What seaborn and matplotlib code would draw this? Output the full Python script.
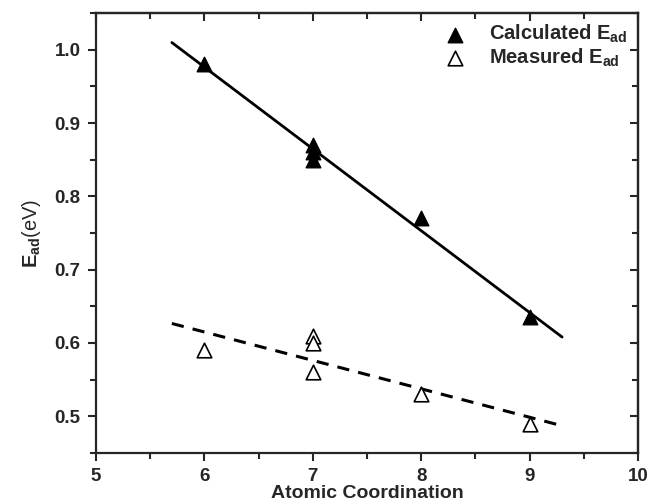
import numpy as np
import pandas as pd
import seaborn as sns
import matplotlib
matplotlib.use("Agg")
from matplotlib import pyplot as plt
from matplotlib.ticker import MultipleLocator

# values
calc_x = [6, 7, 7, 7, 8, 9]
calc_y = [0.98, 0.87, 0.86, 0.85, 0.77, 0.635]
meas_x = [6, 7, 7, 7, 8, 9]
meas_y = [0.59, 0.61, 0.60, 0.56, 0.53, 0.49]
fit_range = [5.7, 9.3]

sns.set_style("ticks")
plt.rcParams['font.family'] = ['Liberation Sans', 'DejaVu Sans']
plt.rcParams['font.weight'] = 'bold'
plt.rcParams['mathtext.fontset'] = 'custom'
plt.rcParams['mathtext.rm'] = 'Liberation Sans:bold'
plt.rcParams['mathtext.bf'] = 'Liberation Sans:bold'
plt.rcParams['mathtext.it'] = 'Liberation Sans:bold'

calc = pd.DataFrame({"x": calc_x, "y": calc_y})
meas = pd.DataFrame({"x": meas_x, "y": meas_y})

# linear fits drawn as lines
xs = np.linspace(fit_range[0], fit_range[1], 50)
pc = np.polyfit(calc_x, calc_y, 1)
pm = np.polyfit(meas_x, meas_y, 1)
fits = pd.DataFrame({"x": xs, "calc": np.polyval(pc, xs), "meas": np.polyval(pm, xs)})

fig = plt.figure(figsize=(6.5, 5.04), dpi=100)
ax = fig.add_axes([0.1477, 0.1012, 0.8338, 0.873])

sns.lineplot(data=fits, x="x", y="calc", ax=ax, color="black", lw=2)
sns.lineplot(data=fits, x="x", y="meas", ax=ax, color="black", lw=2.2,
             dashes=False, linestyle=(0, (4, 3)))
sns.scatterplot(data=calc, x="x", y="y", ax=ax, marker="^", s=110,
                color="black", edgecolor="black", linewidth=1, zorder=3,
                label=r"Calculated E$_{ad}$")
sns.scatterplot(data=meas, x="x", y="y", ax=ax, marker="^", s=110,
                facecolor="white", edgecolor="black", linewidth=1.2, zorder=3,
                label=r"Measured E$_{ad}$")

ax.set_xlim(5, 10)
ax.set_ylim(0.45, 1.05)
ax.xaxis.set_major_locator(MultipleLocator(1))
ax.xaxis.set_minor_locator(MultipleLocator(0.5))
ax.yaxis.set_major_locator(MultipleLocator(0.1))
ax.yaxis.set_minor_locator(MultipleLocator(0.05))
ax.yaxis.set_major_formatter(plt.FormatStrFormatter('%.1f'))

for s in ax.spines.values():
    s.set_visible(True)
    s.set_linewidth(1.6)
ax.tick_params(which='both', direction='out', width=1.5, top=False, right=False,
               labelsize=13.5, pad=5)
ax.tick_params(which='major', length=6)
ax.tick_params(which='minor', length=4)
# inward ticks on top and right
ax2 = ax.secondary_xaxis('top')
ax2.xaxis.set_major_locator(MultipleLocator(1))
ax2.xaxis.set_minor_locator(MultipleLocator(0.5))
ax2.tick_params(which='both', direction='in', width=1.5, labeltop=False)
ax2.tick_params(which='major', length=6)
ax2.tick_params(which='minor', length=4)
ax3 = ax.secondary_yaxis('right')
ax3.yaxis.set_major_locator(MultipleLocator(0.1))
ax3.yaxis.set_minor_locator(MultipleLocator(0.05))
ax3.tick_params(which='both', direction='in', width=1.5, labelright=False)
ax3.tick_params(which='major', length=6)
ax3.tick_params(which='minor', length=4)
for a in (ax2, ax3):
    for s in a.spines.values():
        s.set_linewidth(1.6)

for lab in ax.get_xticklabels() + ax.get_yticklabels():
    lab.set_fontweight('bold')

ax.set_xlabel("Atomic Coordination", fontsize=14, fontweight='bold', labelpad=0)
ax.set_ylabel(r"$E_{ad}$" + "(eV)", fontsize=14.5, labelpad=8)
ax.yaxis.label.set_fontweight('normal')

ax.legend(loc='upper right', frameon=False, fontsize=14.5, handletextpad=0.7,
          borderaxespad=0.1, labelspacing=0.05, markerscale=1.0,
          bbox_to_anchor=(1.0, 1.0))

fig.savefig("out.png", dpi=100)
